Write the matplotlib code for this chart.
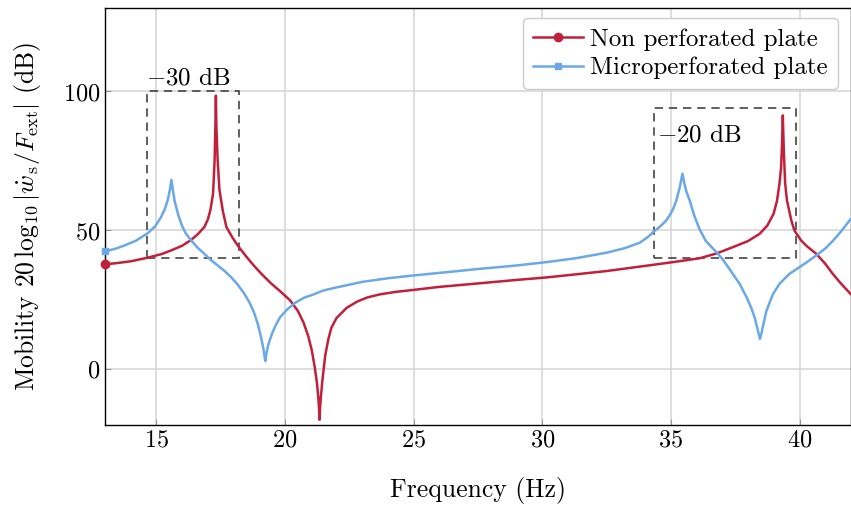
"""
Plate mobility vs frequency: non perforated vs microperforated plate.
"""
import matplotlib
matplotlib.use("Agg")
import matplotlib.pyplot as plt
from matplotlib.patches import Rectangle

plt.rcParams["font.family"] = "cmr10"
plt.rcParams["mathtext.fontset"] = "cm"
plt.rcParams["axes.formatter.use_mathtext"] = True

# --- Data ---
freq_red = [13.0, 13.5, 14.0, 14.66, 15.2, 15.57, 16.0, 16.35, 16.6, 16.86, 17.0,
            17.1, 17.2, 17.26, 17.29, 17.31, 17.33, 17.38, 17.45, 17.58, 17.72,
            17.95, 18.18, 18.5, 18.8, 19.1, 19.45, 19.8, 20.2, 20.5, 20.72,
            20.9, 21.04, 21.15, 21.24, 21.29, 21.32, 21.34, 21.36, 21.39, 21.45,
            21.56, 21.68, 21.8, 22.0, 22.4, 22.8, 23.2, 23.69, 24.3, 24.99,
            26.0, 27.58, 29.0, 30.17, 31.5, 32.5, 33.8, 35.08, 36.12, 36.8,
            37.41, 38.0, 38.45, 38.75, 38.99, 39.12, 39.22, 39.28, 39.31, 39.335,
            39.35, 39.365, 39.39, 39.44, 39.51, 39.68, 39.8, 40.06, 40.3, 40.65,
            41.0, 41.29, 41.6, 41.98]
mob_red = [37.8, 38.3, 38.9, 40.2, 41.5, 42.8, 44.5, 46.6, 48.6, 51.2, 54.0,
           57.5, 63.2, 75.0, 87.0, 98.5, 87.0, 75.0, 64.5, 57.0, 51.2,
           47.5, 44.3, 40.5, 37.2, 34.2, 31.0, 28.2, 24.8, 21.0, 16.8,
           12.0, 6.8, 1.0, -5.0, -10.0, -14.0, -18.1, -14.0, -10.0, -4.0,
           5.0, 10.8, 15.0, 18.5, 22.2, 24.4, 25.9, 27.0, 27.9, 28.6,
           29.7, 31.0, 32.2, 33.1, 34.4, 35.4, 37.0, 38.6, 40.0, 41.8,
           44.0, 46.2, 48.8, 51.8, 56.0, 60.5, 66.8, 72.5, 78.8, 86.0,
           91.4, 86.0, 78.0, 67.0, 60.8, 53.6, 50.0, 46.4, 44.2, 41.6,
           38.0, 34.4, 31.0, 27.2]

freq_blue = [13.0, 13.4, 13.76, 14.2, 14.66, 14.95, 15.18, 15.33, 15.44, 15.52,
             15.58, 15.64, 15.70, 15.85, 16.0, 16.15, 16.35, 16.6, 16.86, 17.1,
             17.38, 17.65, 17.9, 18.15, 18.42, 18.62, 18.8, 18.95, 19.06, 19.15,
             19.2, 19.23, 19.27, 19.35, 19.49, 19.65, 19.81, 20.07, 20.4, 20.74,
             21.11, 21.49, 22.0, 22.4, 23.0, 24.0, 24.99, 26.3, 27.58, 28.9,
             30.17, 31.3, 32.5, 33.2, 33.79, 34.1, 34.31, 34.6, 34.82, 35.0,
             35.12, 35.21, 35.33, 35.45, 35.52, 35.6, 35.74, 35.9, 36.12, 36.35,
             36.6, 36.83, 37.02, 37.3, 37.67, 37.95, 38.12, 38.25, 38.35, 38.42,
             38.46, 38.52, 38.6, 38.71, 38.96, 39.22, 39.61, 40.0, 40.3, 40.65,
             41.0, 41.29, 41.6, 41.98]
mob_blue = [42.5, 43.4, 44.6, 46.3, 49.0, 51.5, 54.8, 57.8, 61.0, 64.5,
            68.2, 64.5, 60.8, 55.5, 51.5, 48.8, 46.4, 43.8, 41.6, 39.5,
            37.4, 35.4, 33.2, 30.6, 27.2, 24.0, 20.3, 16.0, 11.8, 7.8,
            4.8, 3.0, 5.5, 9.0, 12.8, 16.2, 18.8, 21.5, 24.0, 25.8,
            27.0, 28.4, 29.5, 30.3, 31.5, 32.8, 33.8, 35.0, 36.2, 37.3,
            38.6, 40.0, 42.0, 43.6, 45.6, 47.6, 49.4, 51.6, 53.6, 56.2,
            58.5, 60.8, 65.0, 70.4, 67.0, 64.0, 60.5, 55.5, 50.3, 46.3,
            43.8, 41.6, 39.5, 35.8, 30.8, 25.8, 22.2, 18.8, 15.2, 12.5,
            11.0, 13.0, 16.5, 21.0, 27.0, 30.8, 34.4, 36.8, 38.7, 41.0,
            43.5, 46.2, 49.5, 54.0]

# dashed zoom boxes: (f_min, f_max, L_min, L_max) and their labels
boxes = [(14.65, 18.2, 40, 100), (34.33, 39.85, 40, 94)]
box_labels = [r"$-30$ dB", r"$-20$ dB"]
box_label_pos = [(14.6, 102.6), (34.45, 82.0)]

red = "#C21F3A"
blue = "#6AA8E6"

fig = plt.figure(figsize=(8.51, 5.05), dpi=100)
ax = fig.add_axes([0.1234, 0.1584, 0.8766, 0.8256])

ax.plot(freq_red, mob_red, color=red, linewidth=1.8, marker="o", markersize=6,
        markevery=[0], label="Non perforated plate", zorder=3, clip_on=False,
        solid_joinstyle="round")
ax.plot(freq_blue, mob_blue, color=blue, linewidth=1.8, marker="s", markersize=5,
        markevery=[0], label="Microperforated plate", zorder=3, clip_on=False,
        solid_joinstyle="round")

for (x0, x1, y0, y1) in boxes:
    ax.add_patch(Rectangle((x0, y0), x1 - x0, y1 - y0, fill=False,
                           edgecolor="#444444", linewidth=1.2,
                           linestyle=(0, (5, 3.5)), zorder=2))
for txt, (tx, ty) in zip(box_labels, box_label_pos):
    ax.text(tx, ty, txt, fontsize=18, ha="left", va="baseline")

ax.set_xlim(13, 42)
ax.set_ylim(-20, 130)
ax.set_xticks([15, 20, 25, 30, 35, 40])
ax.set_yticks([0, 50, 100])
ax.tick_params(labelsize=17.5, direction="in", length=4, color="#999999")
ax.grid(True, color="#d4d4d4", linewidth=1.1)
ax.set_axisbelow(True)
for s in ax.spines.values():
    s.set_linewidth(1.0)

ax.set_xlabel("Frequency (Hz)", fontsize=18.5, labelpad=18)
ax.set_ylabel(r"Mobility $20\,\log_{10}|\dot{w}_{\mathrm{s}}/F_{\mathrm{ext}}|$ (dB)",
              fontsize=18.5, labelpad=14)

leg = ax.legend(loc="upper right", bbox_to_anchor=(0.9826, 0.976), borderaxespad=0,
                fontsize=18, fancybox=True, framealpha=1, edgecolor="#cccccc",
                handlelength=2.0, handletextpad=0.3, labelspacing=0.25,
                borderpad=0.4)
leg.get_frame().set_linewidth(1.0)

plt.savefig("out.png", dpi=100)
plt.close()
